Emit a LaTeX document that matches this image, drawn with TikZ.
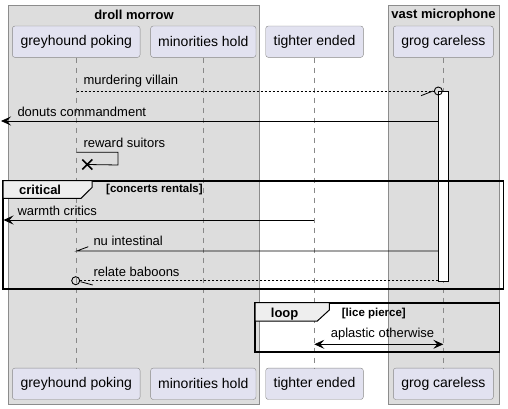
\documentclass[tikz,border=0pt]{standalone}
\usepackage{fontspec}
\setmainfont{Liberation Sans}
\usetikzlibrary{arrows.meta,calc}
\definecolor{grpfill}{HTML}{DDDDDD}
\definecolor{grpline}{HTML}{8C8C8C}
\definecolor{pfill}{HTML}{E2E2F0}
\definecolor{pline}{HTML}{888888}
\definecolor{tabfill}{HTML}{EEEEEE}
\begin{document}
\begin{tikzpicture}[x=1pt,y=-1pt,
  font=\fontsize{13}{15}\selectfont,
  part/.style={draw=pline, fill=pfill, rounded corners=2.5pt, minimum height=31.3pt,
    inner sep=0pt, font=\fontsize{14}{16}\selectfont},
  grpbox/.style={draw=grpline, fill=grpfill, line width=0.8pt},
  grptitle/.style={font=\bfseries\fontsize{13}{15}\selectfont, inner sep=0pt},
  life/.style={draw=pline, dash pattern=on 5pt off 5pt, line width=0.8pt},
  msg/.style={draw=black, line width=0.8pt},
  dotmsg/.style={draw=black, line width=0.8pt, dash pattern=on 2pt off 2pt},
  tip/.style={-{Stealth[length=10pt,width=9pt,inset=4pt]}},
  lbl/.style={anchor=west, inner sep=0pt},
  frame/.style={draw=black, line width=1.6pt},
  tab/.style={draw=black, line width=1pt, fill=tabfill},
  fraglbl/.style={anchor=west, inner sep=0pt, font=\bfseries\fontsize{13}{15}\selectfont},
  guard/.style={anchor=west, inner sep=0pt, font=\bfseries\fontsize{11.5}{13}\selectfont},
  ocirc/.style={circle, draw=black, line width=0.9pt, fill=none, minimum size=8pt, inner sep=0pt}
]
\useasboundingbox (0,0) rectangle (508,409);
% groups
\draw[grpbox] (8,5) rectangle (259.3,404.3);
\draw[grpbox] (388.3,5) rectangle (499.3,404.3);
\node[grptitle] (g1) at (134,15) {droll morrow};
\node[grptitle] (g2) at (443.5,15) {vast microphone};
% participants
\node[part, minimum width=127.7pt] (gpT) at (76.2,41.7) {greyhound poking};
\node[part, minimum width=105.3pt] (mhT) at (203.3,41.7) {minorities hold};
\node[part, minimum width=97.6pt] (teT) at (314.5,41.7) {tighter ended};
\node[part, minimum width=100pt] (gcT) at (443.3,41.7) {grog careless};
\node[part, minimum width=127.7pt] (gpB) at (76.2,383.8) {greyhound poking};
\node[part, minimum width=105.3pt] (mhB) at (203.3,383.8) {minorities hold};
\node[part, minimum width=97.6pt] (teB) at (314.5,383.8) {tighter ended};
\node[part, minimum width=100pt] (gcB) at (443.3,383.8) {grog careless};
% lifelines
\draw[life] (gpT.south) -- (gpB.north);
\draw[life] (mhT.south) -- (mhB.north);
\draw[life] (teT.south) -- (teB.north);
\draw[life] (gcT.south) -- (gcB.north);
% activation
\node[draw=black, fill=white, line width=0.8pt, minimum width=10pt, minimum height=190pt, inner sep=0pt] (act) at (443.3,186) {};
% message 1: murdering villain
\coordinate (m1s) at (76.7,91);
\node[ocirc] (c1) at (438.3,91) {};
\draw[dotmsg] (m1s) -- (c1.west);
\draw[msg] (421,95.7) -- (433,91);
\node[lbl] (l1) at (83.3,81) {murdering villain};
% message 2: donuts commandment
\coordinate (m2e) at (1,121);
\draw[msg, tip] (act.west |- m2e) -- (m2e);
\node[lbl] (l2) at (17.3,112) {donuts commandment};
% message 3: reward suitors
\coordinate (m3s) at (76.7,152.3);
\coordinate (m3x) at (87.3,164.5);
\draw[msg] (m3s) -- (118,152.3) -- (118,165) -- (m3x);
\draw[line width=1.6pt] ($(m3x)+(-5,-5)$) -- ($(m3x)+(5,5)$) ($(m3x)+(-5,5)$) -- ($(m3x)+(5,-5)$);
\node[lbl] (l3) at (83.3,142.7) {reward suitors};
% critical fragment
\draw[frame] (3,180.7) rectangle (503.3,289);
\draw[tab] (3,180.7) -- (92,180.7) -- (92,187.5) -- (81,198.3) -- (3,198.3) -- cycle;
\node[fraglbl] (f1) at (19,190) {critical};
\node[guard] (f1g) at (106,189.5) {[concerts rentals]};
% warmth critics
\coordinate (m4s) at (314.3,220);
\coordinate (m4e) at (3.5,220);
\draw[msg, tip] (m4s) -- (m4e);
\node[lbl] (l4) at (17.3,211) {warmth critics};
% nu intestinal
\coordinate (m5e) at (76.7,251);
\draw[msg] (act.west |- m5e) -- (m5e) -- (88.3,246.7);
\node[lbl] (l5) at (93.3,241) {nu intestinal};
% relate baboons
\node[ocirc] (c6) at (75.7,280.7) {};
\coordinate (m6s) at (438.3,280.7);
\draw[dotmsg] (m6s) -- (c6.east);
\draw[msg] (80.5,281.7) -- (92.7,285);
\node[lbl] (l6) at (93.3,272.3) {relate baboons};
% loop fragment
\draw[frame] (255,302.7) rectangle (499.3,352);
\draw[tab] (255,302.7) -- (329.3,302.7) -- (329.3,310) -- (317.3,321) -- (255,321) -- cycle;
\node[fraglbl] (f2) at (270.7,314) {loop};
\node[guard] (f2g) at (341.7,313.5) {[lice pierce]};
% aplastic otherwise
\coordinate (m7a) at (314.3,344.3);
\coordinate (m7b) at (443.3,344.3);
\draw[msg, {Stealth[length=10pt,width=9pt,inset=4pt]}-{Stealth[length=10pt,width=9pt,inset=4pt]}] (m7a) -- (m7b);
\node[lbl] (l7) at (330.7,334.3) {aplastic otherwise};
\end{tikzpicture}
\end{document}
